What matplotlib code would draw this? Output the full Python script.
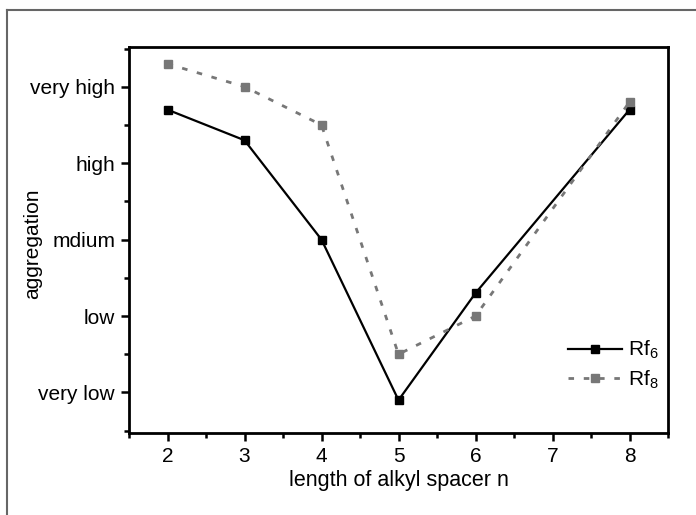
import matplotlib
matplotlib.use("Agg")
import matplotlib.pyplot as plt
from matplotlib.lines import Line2D
from matplotlib.ticker import MultipleLocator

plt.rcParams['font.family'] = ['Liberation Sans', 'DejaVu Sans']
plt.rcParams['mathtext.fontset'] = 'custom'
plt.rcParams['mathtext.rm'] = 'Liberation Sans'
plt.rcParams['mathtext.it'] = 'Liberation Sans'
plt.rcParams['mathtext.default'] = 'regular'

x_vals = [2, 3, 4, 5, 6, 8]
rf6 = [4.7, 4.3, 3.0, 0.9, 2.3, 4.7]
rf8 = [5.3, 5.0, 4.5, 1.5, 2.0, 4.8]
level_pos = [1, 2, 3, 4, 5]
level_labels = ["very low", "low", "mdium", "high", "very high"]
x_ticks = [2, 3, 4, 5, 6, 7, 8]

fig = plt.figure(figsize=(6.96, 5.15), dpi=100)
ax = fig.add_axes([129/696, 1-433/515, (668-129)/696, (433-47)/515])

ax.plot(x_vals, rf6, color='black', lw=1.6, marker='s', ms=6, label='Rf$_6$')
ax.plot(x_vals, rf8, color='#777777', lw=2, ls=(0, (2, 3.5)), marker='s', ms=6,
        label='Rf$_8$')

ax.set_xlim(1.5, 8.5)
ax.set_ylim(0.47, 5.52)
ax.set_xticks(x_ticks)
ax.set_yticks(level_pos)
ax.set_yticklabels(level_labels)
ax.xaxis.set_minor_locator(MultipleLocator(0.5))
ax.yaxis.set_minor_locator(MultipleLocator(0.5))
ax.tick_params(which='major', direction='out', length=6, width=1.8, labelsize=15,
               colors='black', pad=4)
ax.tick_params(which='minor', direction='out', length=3.5, width=1.8)
for s in ax.spines.values():
    s.set_linewidth(2)

ax.set_xlabel("length of alkyl spacer n", fontsize=15.5, labelpad=3)
ax.set_ylabel("aggregation", fontsize=15)
ax.yaxis.set_label_coords((42 - 129) / 539, 0.49)

leg = ax.legend(loc='lower right', bbox_to_anchor=(1.018, 0.06), frameon=False,
                fontsize=15, handlelength=2.6, handletextpad=0.3, labelspacing=0.35)

# outer frame (left and top visible)
fig.add_artist(Line2D([6.5/696, 6.5/696], [0, 1-10/515], color='#666666', lw=1.5))
fig.add_artist(Line2D([6.5/696, 1], [1-10/515, 1-10/515], color='#666666', lw=1.5))

fig.savefig("out.png", dpi=100)
